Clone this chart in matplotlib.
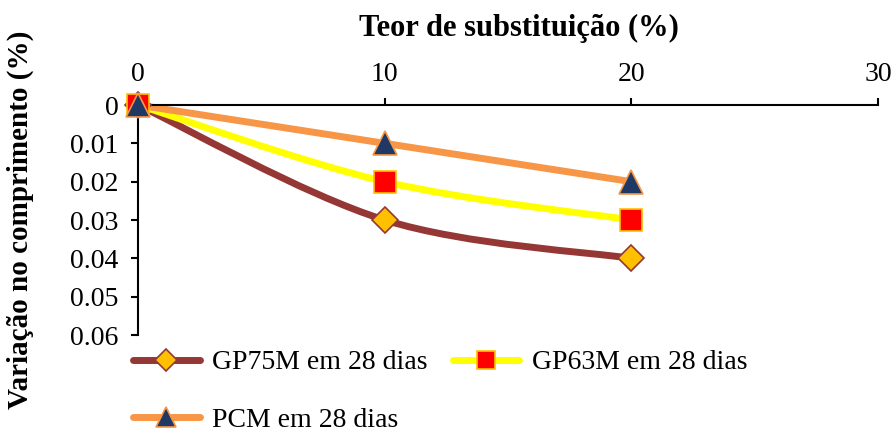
import matplotlib.pyplot as plt
from matplotlib.path import Path
from matplotlib.patches import PathPatch
from matplotlib.lines import Line2D

plt.rcParams['font.family'] = ['Liberation Serif', 'DejaVu Serif']

# data
teor = [0, 10, 20]
gp75m = [0, 0.03, 0.04]
gp63m = [0, 0.02, 0.03]
pcm = [0, 0.01, 0.02]
labels = ['GP75M em 28 dias', 'GP63M em 28 dias', 'PCM em 28 dias']
xticks = [0, 10, 20, 30]
yticks = [0, 0.01, 0.02, 0.03, 0.04, 0.05, 0.06]
ytick_labels = ['0', '0.01', '0.02', '0.03', '0.04', '0.05', '0.06']

styles = [
    dict(color='#953735', marker='D', mfc='#FFC000', mec='#953735', ms=13, mew=1.2),
    dict(color='#FFFF00', marker='s', mfc='#FF0000', mec='#FFC000', ms=16, mew=1.2),
    dict(color='#F79646', marker='^', mfc='#1F3864', mec='#F79646', ms=17, mew=1.2),
]


def smooth_path(x, y):
    # excel-like smoothed line: cubic bezier through the points
    pts = list(zip(x, y))
    verts = [pts[0]]
    codes = [Path.MOVETO]
    n = len(pts)
    for i in range(n - 1):
        p0 = pts[i - 1] if i > 0 else pts[i]
        p1 = pts[i]
        p2 = pts[i + 1]
        p3 = pts[i + 2] if i + 2 < n else pts[i + 1]
        c1 = (p1[0] + (p2[0] - p0[0]) / 6, p1[1] + (p2[1] - p0[1]) / 6)
        c2 = (p2[0] - (p3[0] - p1[0]) / 6, p2[1] - (p3[1] - p1[1]) / 6)
        verts += [c1, c2, p2]
        codes += [Path.CURVE4] * 3
    return Path(verts, codes)


fig = plt.figure(figsize=(8.94, 4.36), dpi=100)
ax = fig.add_axes([138 / 894, 1 - 335 / 436, (878 - 138) / 894, (335 - 105) / 436])

series = [gp75m, gp63m, pcm]
handles = []
for vals, st in zip(series, styles):
    patch = PathPatch(smooth_path(teor, vals), facecolor='none', edgecolor=st['color'],
                      lw=5, capstyle='round', joinstyle='round', clip_on=False)
    ax.add_patch(patch)
    ax.plot(teor, vals, linestyle='none', marker=st['marker'], ms=st['ms'],
            mfc=st['mfc'], mec=st['mec'], mew=st['mew'], clip_on=False, zorder=5)
    handles.append(Line2D([], [], color=st['color'], lw=5, solid_capstyle='round',
                          marker=st['marker'], ms=st['ms'] * 0.85, mfc=st['mfc'],
                          mec=st['mec'], mew=st['mew']))

ax.set_xlim(0, 30)
ax.set_ylim(0.06, 0)
ax.xaxis.tick_top()
ax.set_xticks(xticks)
ax.set_yticks(yticks)
ax.set_yticklabels(ytick_labels)
ax.tick_params(axis='both', labelsize=20, length=5, width=1.5, direction='out')
ax.tick_params(axis='x', pad=8)
ax.tick_params(axis='y', pad=9)
for s in ['right', 'bottom']:
    ax.spines[s].set_visible(False)
for s in ['top', 'left']:
    ax.spines[s].set_linewidth(1.5)

fig.text(519 / 894, 1 - 28 / 436, 'Teor de substituição (%)', ha='center', va='center',
         fontsize=22, fontweight='bold')
fig.text(20 / 894, 1 - 220 / 436, 'Variação no comprimento (%)', ha='center', va='center',
         rotation=90, fontsize=21, fontweight='bold')

# column-wise fill: GP75M, PCM in column 1, GP63M in column 2
order = [0, 2, 1]
fig.legend([handles[i] for i in order], [labels[i] for i in order], loc='upper left',
           bbox_to_anchor=(133 / 894, 1 - 350 / 436),
           ncol=2, frameon=False, fontsize=20, handlelength=2.4, handletextpad=0.45,
           columnspacing=0.9, labelspacing=1.15, borderpad=0, borderaxespad=0)

fig.savefig('out.png', dpi=100)
